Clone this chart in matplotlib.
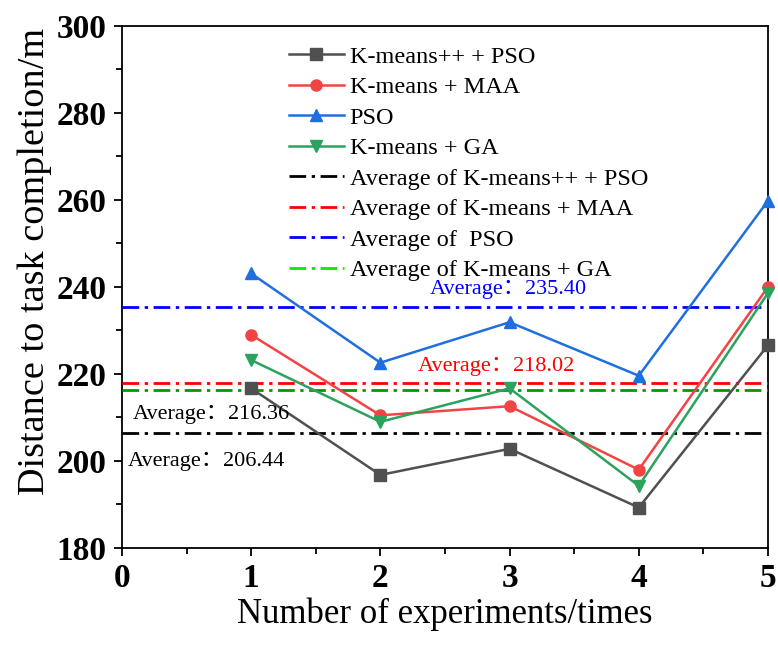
import matplotlib
matplotlib.use("Agg")
import matplotlib.pyplot as plt
from matplotlib.ticker import MultipleLocator

plt.rcParams['font.family'] = ['Liberation Serif', 'Noto Sans CJK SC', 'DejaVu Sans']

# Experiment index and the task-completion distance of each method
experiments = [1, 2, 3, 4, 5]
kpp_pso = [216.7, 196.8, 202.8, 189.3, 226.6]
kmeans_maa = [229.0, 210.5, 212.6, 198.0, 240.0]
pso = [243.1, 222.6, 231.9, 219.6, 259.8]
kmeans_ga = [223.2, 209.0, 216.7, 194.3, 238.6]

series_names = ["K-means++ + PSO", "K-means + MAA", "PSO", "K-means + GA"]
avg_names = ["Average of K-means++ + PSO", "Average of K-means + MAA",
             "Average of  PSO", "Average of K-means + GA"]

# Mean distance of each method over the five runs
avg_values = [206.44, 218.02, 235.40, 216.36]

x_ticks = [0, 1, 2, 3, 4, 5]
y_ticks = [180, 200, 220, 240, 260, 280, 300]

fig = plt.figure(figsize=(7.78, 6.46), dpi=100)
ax = fig.add_axes([0.1568, 0.1517, 0.8303, 0.8081])

line_colors = ['#505050', '#f24444', '#1f6fdf', '#2ca25f']
markers = ['s', 'o', '^', 'v']
for vals, name, c, m in zip([kpp_pso, kmeans_maa, pso, kmeans_ga], series_names,
                            line_colors, markers):
    ax.plot(experiments, vals, color=c, marker=m, markersize=8, linewidth=1.8,
            label=name, clip_on=False, zorder=4)

avg_colors = ['#000000', '#ff0000', '#0000ff', '#009a00']
for v, name, c in zip(avg_values, avg_names, avg_colors):
    ax.axhline(v, color=c, linewidth=2.0, linestyle=(0, (6, 2, 1.2, 2)),
               label=name, zorder=3)

# Annotations for the average lines
txt_kw = dict(fontsize=16, ha='center', va='center', zorder=5)
ax.text(2.99, 239.5, "Average\uff1a235.40", color='#0000ff', **txt_kw)
ax.text(2.90, 221.8, "Average\uff1a218.02", color='#ff0000', **txt_kw)
ax.text(0.69, 210.6, "Average\uff1a216.36", color='#000000', **txt_kw)
ax.text(0.655, 200.0, "Average\uff1a206.44", color='#000000', **txt_kw)

ax.set_xlim(0, 5)
ax.set_ylim(180, 300)
ax.set_xticks(x_ticks)
ax.set_yticks(y_ticks)
ax.xaxis.set_minor_locator(MultipleLocator(0.5))
ax.yaxis.set_minor_locator(MultipleLocator(10))
ax.tick_params(axis='both', which='major', direction='out', length=6, width=1.3,
               labelsize=24, pad=5)
ax.tick_params(axis='both', which='minor', direction='out', length=4, width=1.3)
for lab in ax.get_xticklabels() + ax.get_yticklabels():
    lab.set_fontweight('bold')
for sp in ax.spines.values():
    sp.set_linewidth(1.3)

ax.set_xlabel("Number of experiments/times", fontsize=25, labelpad=2)
ax.set_ylabel("Distance to task completion/m", fontsize=27.5)
ax.yaxis.set_label_coords(-0.108, 0.548)

leg = ax.legend(loc='upper left', bbox_to_anchor=(0.243, 0.981), frameon=False,
                fontsize=17.5, handlelength=2.26, handletextpad=0.25,
                labelspacing=0.35, borderaxespad=0)
leg.get_lines()[7].set_color('#00ee00')

fig.savefig("out.png", dpi=100)
